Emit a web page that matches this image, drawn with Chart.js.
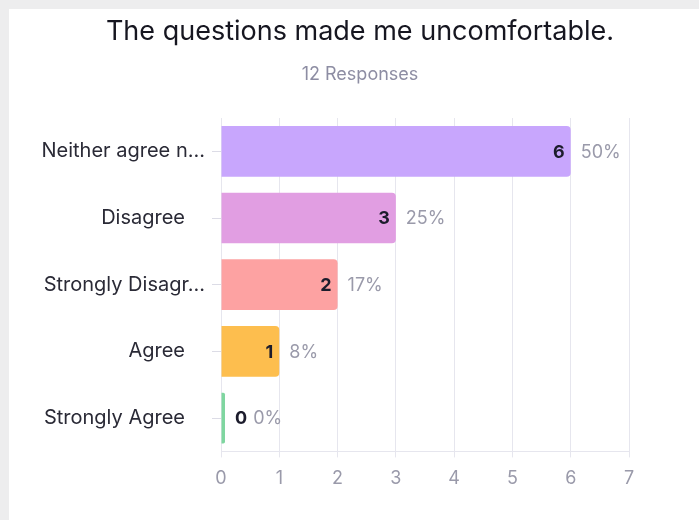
<!DOCTYPE html>
<html>
<head>
<meta charset="utf-8">
<script src="https://cdn.jsdelivr.net/npm/chart.js@4/dist/chart.umd.min.js"></script>
<style>
  html, body { margin: 0; padding: 0; background: #ededee; width: 699px; height: 520px; overflow: hidden; }
  #card { position: absolute; left: 9px; top: 9px; width: 690px; height: 511px; background: #ffffff; }
  canvas { display: block; }
</style>
</head>
<body>
<div id="card"><canvas id="c" width="690" height="511"></canvas></div>
<script>
const categories = ["Neither agree n...", "Disagree", "Strongly Disagr...", "Agree", "Strongly Agree"];
const counts = [6, 3, 2, 1, 0];
const barColors = ["#c8a6fd", "#e19ee2", "#fda2a2", "#fdbe4e", "#7fd6a0"];
const xTicks = [0, 1, 2, 3, 4, 5, 6, 7];
const titleText = "The questions made me uncomfortable.";
const subtitleText = "12 Responses";

const total = counts.reduce((a, b) => a + b, 0);
const FONT = "'Inter', 'Noto Sans', sans-serif";

const valueLabels = {
  id: 'valueLabels',
  afterDatasetsDraw(chart) {
    const ctx = chart.ctx;
    const meta = chart.getDatasetMeta(0);
    ctx.save();
    ctx.textBaseline = 'middle';
    meta.data.forEach((bar, i) => {
      const v = counts[i];
      const pct = Math.round(v / total * 100) + '%';
      ctx.font = "bold 18px " + FONT;
      const y = bar.y + 1;
      let pctX;
      if (v === 0) {
        ctx.textAlign = 'left';
        ctx.fillStyle = '#1c1c2c';
        const x0 = bar.x + 10;
        ctx.fillText(String(v), x0, y);
        pctX = x0 + ctx.measureText(String(v)).width + 6;
      } else {
        ctx.textAlign = 'right';
        ctx.fillStyle = '#1c1c2c';
        ctx.fillText(String(v), bar.x - 6, y);
        pctX = bar.x + 10;
      }
      ctx.font = "18px " + FONT;
      ctx.textAlign = 'left';
      ctx.fillStyle = '#9a9aaa';
      ctx.fillText(pct, pctX, y);
    });
    ctx.restore();
  }
};

new Chart(document.getElementById('c'), {
  type: 'bar',
  data: {
    labels: categories,
    datasets: [{
      data: counts,
      backgroundColor: barColors,
      borderRadius: 4,
      borderSkipped: 'start',
      categoryPercentage: 0.76,
      barPercentage: 1.0,
      minBarLength: 4
    }]
  },
  plugins: [valueLabels],
  options: {
    indexAxis: 'y',
    responsive: false,
    animation: false,
    devicePixelRatio: 1,
    layout: { padding: { left: 12, right: 0, top: 0, bottom: 21 } },
    plugins: {
      legend: { display: false },
      tooltip: { enabled: false },
      title: {
        display: true,
        text: titleText,
        color: '#161620',
        font: { family: FONT, size: 27, weight: 'normal' },
        padding: { top: 7, bottom: 15 }
      },
      subtitle: {
        display: true,
        text: subtitleText,
        color: '#8d8da3',
        font: { family: FONT, size: 18, weight: 'normal' },
        padding: { top: 0, bottom: 33 }
      }
    },
    scales: {
      x: {
        min: 0,
        max: 7,
        afterBuildTicks(scale) { scale.ticks = xTicks.map(v => ({ value: v })); },
        grid: { color: '#e6e6ee', lineWidth: 1, tickLength: 6, drawTicks: true },
        border: { color: '#e6e6ee' },
        ticks: { color: '#9a9aaa', font: { family: FONT, size: 18 }, padding: 10, callback: v => String(v) }
      },
      y: {
        afterFit(scale) { scale.width = 200; },
        grid: { drawOnChartArea: false, offset: false, color: '#dcdce6', tickLength: 9 },
        border: { display: false },
        ticks: {
          color: '#2a2a36',
          font: { family: FONT, size: 20 },
          padding: 7,
          callback: function (v, i) {
            const l = categories[i];
            return l.endsWith('...') ? l : l + '\u2003';
          }
        }
      },
      pad: {
        type: 'linear',
        position: 'right',
        display: true,
        afterFit(scale) { scale.width = 70; },
        grid: { display: false },
        border: { display: false },
        ticks: { display: false }
      }
    }
  }
});
</script>
</body>
</html>
